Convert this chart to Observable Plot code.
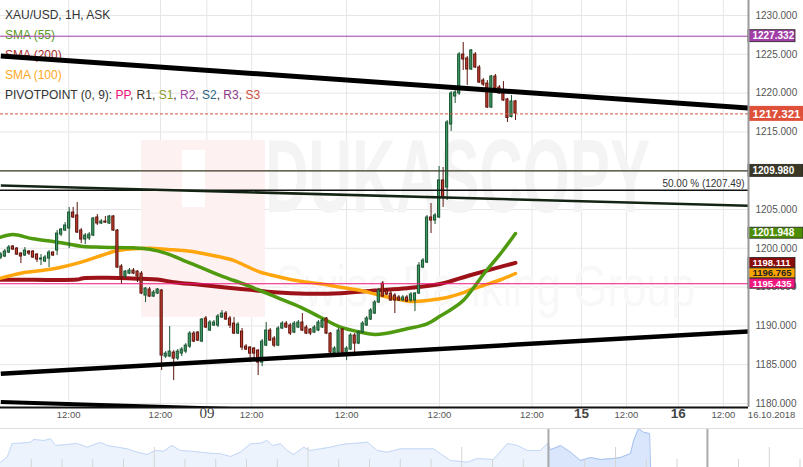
<!DOCTYPE html>
<html><head><meta charset="utf-8">
<script src="https://cdn.jsdelivr.net/npm/d3@7"></script>
<script src="https://cdn.jsdelivr.net/npm/@observablehq/plot@0.6"></script>
<style>
html,body{margin:0;padding:0;background:#fff;}
#wrap{position:relative;width:803px;height:467px;overflow:hidden;}
svg{display:block}
</style></head>
<body><div id="wrap"></div>
<script>
// ---------- DATA ----------
const candleOpen = [1198.81,1198.94,1199.45,1200.23,1199.97,1199.32,1199.07,1199.58,1199.58,1199.19,
1198.55,1198.29,1198.68,1199.45,1199.71,1201.77,1202.29,1202.55,1204.61,1204.23,
1202.29,1201.13,1201.26,1201.64,1203.97,1203.19,1203.45,1203.19,1204.10,1202.29,
1197.65,1196.36,1196.74,1197.13,1197.00,1196.74,1193.91,1194.69,1193.78,1194.17,
1194.56,1186.05,1186.05,1186.56,1185.79,1186.43,1186.69,1187.33,1189.01,1189.14,
1187.98,1190.95,1189.40,1190.05,1190.05,1191.08,1191.59,1190.95,1190.30,1189.01,
1189.27,1187.33,1187.21,1187.08,1186.82,1185.27,1187.46,1189.40,1188.37,1187.46,
1189.66,1190.30,1190.05,1189.14,1189.79,1190.43,1189.79,1189.53,1189.14,1189.40,
1189.79,1190.95,1189.01,1186.43,1186.56,1189.53,1186.56,1186.95,1188.76,1187.72,
1189.14,1190.05,1190.82,1191.59,1193.01,1195.46,1194.56,1194.17,1193.91,1193.66,
1193.27,1193.66,1193.27,1193.27,1194.17,1197.52,1198.16,1203.97,1203.58,1203.97,
1208.74,1207.83,1215.95,1219.56,1219.95,1224.97,1224.46,1223.04,1224.97,1223.30,
1221.62,1221.23,1218.14,1222.14,1220.72,1220.33,1219.18,1216.92,1218.92];
const candleHigh = [1199.45,1199.84,1200.36,1200.36,1200.10,1199.45,1200.10,1199.71,1199.71,1199.32,
1199.19,1199.07,1199.71,1199.58,1202.29,1202.55,1203.32,1205.26,1205.26,1205.90,
1202.55,1201.90,1202.03,1203.97,1204.36,1203.71,1204.10,1204.23,1204.23,1202.42,
1197.90,1197.13,1197.39,1197.39,1197.13,1197.00,1194.95,1194.95,1194.56,1194.82,
1194.69,1186.69,1189.92,1186.82,1186.95,1187.21,1187.72,1189.27,1189.27,1189.27,
1190.95,1191.21,1190.69,1190.69,1191.47,1191.98,1191.85,1191.21,1191.08,1190.43,
1189.66,1187.59,1187.33,1187.21,1186.95,1188.24,1190.43,1189.66,1188.63,1189.92,
1190.56,1190.56,1190.30,1190.56,1190.69,1191.59,1190.05,1189.66,1190.05,1190.69,
1190.95,1191.08,1189.14,1187.33,1189.66,1189.66,1187.33,1189.01,1189.01,1189.40,
1190.56,1191.21,1192.24,1193.27,1194.82,1195.72,1194.82,1194.43,1194.17,1193.91,
1193.91,1193.91,1194.30,1194.30,1198.16,1198.68,1204.23,1205.77,1204.48,1210.54,
1210.41,1216.47,1220.20,1220.33,1225.23,1226.52,1224.72,1225.62,1225.23,1223.56,
1221.88,1221.62,1222.27,1222.40,1220.98,1221.49,1219.31,1219.69,1219.05];
const candleLow = [1198.55,1198.81,1199.32,1199.71,1199.07,1198.03,1198.94,1199.07,1198.68,1198.16,
1197.77,1198.16,1197.52,1198.94,1199.07,1201.51,1202.16,1199.97,1203.84,1201.90,
1200.61,1200.48,1201.00,1201.51,1202.94,1203.06,1203.19,1203.06,1202.16,1197.39,
1195.33,1196.10,1196.61,1196.61,1195.59,1194.04,1193.01,1193.66,1193.66,1194.04,
1184.24,1185.79,1185.92,1182.95,1185.53,1186.05,1186.43,1187.08,1187.85,1187.98,
1187.85,1189.66,1189.27,1189.92,1189.79,1190.95,1190.69,1189.66,1188.88,1188.88,
1186.82,1186.82,1185.27,1185.92,1183.60,1184.76,1187.33,1187.98,1187.21,1187.33,
1189.53,1189.66,1188.76,1189.01,1189.66,1189.27,1188.88,1188.76,1189.01,1189.27,
1189.66,1188.88,1186.43,1186.30,1186.43,1186.43,1185.53,1186.82,1186.56,1187.59,
1189.01,1189.92,1190.69,1191.47,1192.88,1193.66,1193.91,1193.14,1191.59,1193.14,
1193.14,1193.01,1193.01,1191.85,1194.04,1197.39,1198.03,1201.90,1203.06,1203.84,
1205.26,1206.16,1215.05,1218.66,1219.69,1222.91,1220.98,1222.91,1223.17,1221.23,
1220.85,1218.02,1218.02,1220.33,1219.82,1218.92,1216.21,1216.79,1216.47];
const candleClose = [1199.19,1199.58,1200.10,1199.84,1199.19,1198.94,1199.71,1199.32,1198.81,1198.55,
1198.68,1198.81,1199.45,1199.07,1201.90,1202.42,1202.94,1204.61,1203.97,1202.03,
1201.13,1201.64,1201.77,1203.84,1203.19,1203.45,1203.32,1204.10,1202.29,1197.52,
1196.23,1197.00,1197.13,1196.74,1196.36,1194.17,1194.82,1193.78,1194.30,1194.69,
1186.18,1186.43,1186.69,1185.79,1186.69,1186.95,1187.46,1189.01,1187.98,1188.11,
1190.82,1189.79,1190.43,1190.43,1191.21,1191.59,1190.82,1190.05,1189.01,1190.17,
1187.21,1186.95,1186.43,1186.43,1185.27,1187.98,1189.40,1188.11,1187.46,1189.66,
1190.30,1189.79,1189.01,1190.30,1190.43,1189.40,1189.01,1189.01,1189.79,1190.43,
1190.69,1189.01,1186.56,1187.08,1189.40,1186.56,1187.08,1188.76,1187.72,1189.14,
1190.30,1190.95,1191.98,1193.01,1194.56,1193.78,1194.04,1193.27,1193.27,1193.27,
1193.66,1193.14,1194.04,1194.17,1197.77,1198.42,1203.97,1203.58,1204.23,1208.74,
1206.55,1216.21,1219.95,1220.08,1224.97,1224.33,1223.04,1225.49,1223.30,1221.36,
1221.10,1218.14,1222.14,1220.59,1219.95,1219.05,1216.79,1218.92,1217.37];

const sma55Idx = [0,3,8,13,16.5,20.5,25,33,37,41.5,45.5,50,54,58,62,64.5,69.5,74.5,79.5,84.5,89.5,93,96,101,106,109.5,112,115,118,120,124.5,128];
const sma55Val = [1201.43,1201.78,1201.22,1200.88,1200.58,1200.23,1200.14,1200.06,1199.88,1199.29,1198.42,1197.49,1196.62,1195.85,1195.08,1194.56,1193.49,1192.41,1191.12,1189.83,1189.19,1188.89,1189.06,1189.63,1190.27,1191.34,1192.11,1193.27,1195.21,1196.62,1199.46,1201.91];
const sma100Idx = [0,5,10,15,20,25,29,33,37,41.5,45.5,50,54,58,61,64.5,69.5,74.5,79.5,84.5,89.5,94.5,99.5,102.5,106,111,114.5,117,120,124.5,128];
const sma100Val = [1196.15,1196.79,1197.13,1197.56,1198.21,1199.07,1199.71,1199.94,1200.01,1199.85,1199.71,1199.37,1198.94,1198.42,1197.72,1196.92,1196.28,1195.76,1195.43,1194.99,1194.56,1193.92,1193.36,1193.14,1193.27,1193.66,1194.18,1194.69,1195.21,1195.98,1196.75];
const sma200Idx = [0,8,19,20.5,26.5,35,39,43,49.5,56.5,62,68,76,84.5,93,101,109.5,116.5,128];
const sma200Val = [1195.94,1195.94,1195.98,1196.15,1196.20,1196.07,1195.98,1195.63,1195.30,1194.91,1194.65,1194.34,1194.14,1194.21,1194.56,1194.86,1195.43,1196.50,1198.13];

// trend lines: start at index 0, end at given index
const trendStart = [1224.78, 1183.83, 1180.19, 1208.09];
const trendEnd = [1218.08, 1189.28, 1177.29, 1205.48];
const trendEndIdx = [186, 186, 186, 186];

const levelValues = [1227.332, 1217.321, 1209.980, 1207.49, 1195.435];
const fibLabel = "50.00 % (1207.49)";
const boxValues = [1227.332, 1217.321, 1209.980, 1201.948, 1198.111, 1196.765, 1195.435];

const priceTicks = [1180,1185,1190,1195,1200,1205,1210,1215,1220,1225,1230];
const timeTickIdx = [16.87, 39.72, 51.25, 62.4, 86.0, 109.1, 132.1, 144.4, 155.6, 168.5, 179.7, 191.7];
const timeTickLabel = ["12:00","12:00","09","12:00","12:00","12:00","12:00","15","12:00","16","12:00","16.10.2018"];

const legendTitle = "XAU/USD, 1H, ASK";
const smaNames = ["SMA (55)", "SMA (200)", "SMA (100)"];
const pivotPrefix = "PIVOTPOINT (0, 9): ";
const pivotNames = ["PP","R1","S1","R2","S2","R3","S3"];

const navT = [0,0.22,0.38,0.65,0.98,1.08,1.41,1.63,1.79,2.17,2.49,2.82,3.14,3.25,3.47,3.80,4.12,4.45,4.77,5.04,5.31,5.58,5.85,6.18,6.50,6.83,7.15,7.48,7.80,8.13,8.46,8.67,8.84,9.11,9.32,9.54,9.86,10.08,10.41,10.73,10.95,11.27,11.60,11.93,12.25,12.58,13.01,13.66,14.08,14.63,15.19,15.51,16.03,16.49,16.81,17.14,17.56,17.79,17.89,18.21,18.54,18.86,19.19,19.51,19.93,20.16,20.49,20.59,20.75,20.91,21.11,21.14];
const navV = [5.3,10.3,24,24.3,25.3,28,27,28.7,22,23,24,20.3,24,25,22,20.3,18.7,15.3,13,17,16.3,22,17,16.3,15.3,14.3,13.7,11,15.3,23.7,24.3,27,22,23.7,17,13,20.3,17,18.7,20.3,22,23.7,24.3,25.3,17,15.3,18.7,18.7,18.7,7,5.3,9,8,24,22,17,17,24,17.7,22,15.3,7,10,8,9,10,14,27,39,35.3,34,0];
const navWindow = [17.82, 22.99];

// ---------- BUILD ----------
const FONT = '"Liberation Sans", Arial, Helvetica, sans-serif';
const xMin = -0.075, xMax = 185.95;
const yMin = 1179.485, yMax = 1231.933;
const pxPerIdx = 748 / (xMax - xMin);
const pxPerPrice = 407 / (yMax - yMin);

const candles = candleOpen.map((o, i) => ({i, open: o, high: candleHigh[i], low: candleLow[i], close: candleClose[i]}));
const up = candles.filter(d => d.close >= d.open);
const down = candles.filter(d => d.close < d.open);
const sma55 = sma55Idx.map((x, k) => ({x, v: sma55Val[k]}));
const sma100 = sma100Idx.map((x, k) => ({x, v: sma100Val[k]}));
const sma200 = sma200Idx.map((x, k) => ({x, v: sma200Val[k]}));
const trends = trendStart.map((s, k) => ({k, x1: 0, y1: s, x2: trendEndIdx[k], y2: trendEnd[k]}));
const timeTicks = timeTickIdx.map((x, k) => ({x, label: timeTickLabel[k]}));

const boxStyle = [
  {fill:"#a03ea6", text:"#fff", h:12, w:47, fs:10, stroke:"#222"},
  {fill:"#df503b", text:"#fff", h:15, w:55, fs:11.5, stroke:"none"},
  {fill:"#3b3826", text:"#fff", h:12, w:55, fs:10, stroke:"#222"},
  {fill:"#4e8e05", text:"#fff", h:11, w:55, fs:10, stroke:"#222"},
  {fill:"#8b0a0a", text:"#fff", h:10, w:47, fs:9.5, stroke:"#222"},
  {fill:"#ffa500", text:"#222", h:10, w:47, fs:9.5, stroke:"#222"},
  {fill:"#f0157f", text:"#fff", h:10, w:47, fs:9.5, stroke:"#222"}
];
const boxMarks = [];
boxValues.forEach((v, k) => {
  const s = boxStyle[k];
  const d = [{v}];
  boxMarks.push(Plot.rect(d, {x1: () => xMax, x2: () => xMax + s.w / pxPerIdx,
    y1: r => r.v - s.h / 2 / pxPerPrice, y2: r => r.v + s.h / 2 / pxPerPrice,
    fill: s.fill, stroke: s.stroke, strokeWidth: 0.8}));
  boxMarks.push(Plot.text(d, {x: () => xMax, y: "v", text: r => r.v.toFixed(3), dx: 4, textAnchor: "start",
    fill: s.text, fontSize: s.fs, fontWeight: "bold"}));
});

const levelStyle = [
  {stroke:"#a03ea6", w:1, dash:null},
  {stroke:"#d4533e", w:1, dash:"3,2"},
  {stroke:"#3b3826", w:1.2, dash:null},
  {stroke:"#111", w:1.5, dash:null},
  {stroke:"#f0157f", w:1.2, dash:null}
];
const levelMarks = levelValues.map((v, k) => Plot.ruleY([v], {stroke: levelStyle[k].stroke, strokeWidth: levelStyle[k].w, strokeDasharray: levelStyle[k].dash}));

const trendStyle = [
  {stroke:"#000", w:5},
  {stroke:"#000", w:4.5},
  {stroke:"#000", w:4},
  {stroke:"#142414", w:2.6}
];
const trendMarks = trends.map((t, k) => Plot.link([t], {x1:"x1", y1:"y1", x2:"x2", y2:"y2", stroke: trendStyle[k].stroke, strokeWidth: trendStyle[k].w, clip: true}));

// watermark (decoration)
const wmBlock = [{x1: 35.0, x2: 65.8, y1: 1191.08, y2: 1213.89}];
const wmNotch = [{x1: 45.2, x2: 50.9, y1: 1205.26, y2: 1212.60}];
const wmText = [{x: 113.6, y: 1208.99, t: "DUKASCOPY"}];
const wmSub = [{x: 120.5, y: 1194.95, t: "Swiss Banking Group"}];

const chart = Plot.plot({
  width: 803, height: 428,
  marginLeft: 0, marginRight: 55, marginTop: 0, marginBottom: 21,
  x: {domain: [xMin, xMax], axis: null},
  y: {domain: [yMin, yMax], axis: null},
  style: {background: "#fff", fontFamily: FONT, fontSize: "10px"},
  marks: [
    Plot.ruleY(priceTicks, {stroke: "#e6e6e6"}),
    Plot.ruleX(timeTickIdx.slice(0, -1), {stroke: "#e6e6e6"}),
    Plot.rect(wmBlock, {x1:"x1", x2:"x2", y1:"y1", y2:"y2", fill:"#fdf1f2"}),
    Plot.rect(wmNotch, {x1:"x1", x2:"x2", y1:"y1", y2:"y2", fill:"#ffffff"}),
    Plot.text(wmText, {x:"x", y:"y", text:"t", fontSize: 104, fontWeight: "bold", fill: "#f4f4f4"}),
    Plot.text(wmSub, {x:"x", y:"y", text:"t", fontSize: 58, fill: "#f8f8f8"}),
    Plot.line(sma200, {x:"x", y:"v", stroke:"#9c1218", strokeWidth: 4, curve:"catmull-rom"}),
    Plot.line(sma100, {x:"x", y:"v", stroke:"#ffa60f", strokeWidth: 3.5, curve:"catmull-rom"}),
    Plot.line(sma55, {x:"x", y:"v", stroke:"#4f9a0f", strokeWidth: 3.5, curve:"catmull-rom"}),
    Plot.ruleX(up, {x:"i", y1:"low", y2:"high", stroke:"#1b5432", strokeWidth: 1}),
    Plot.ruleX(down, {x:"i", y1:"low", y2:"high", stroke:"#5c150e", strokeWidth: 1}),
    Plot.rect(up, {x1: d => d.i - 0.27, x2: d => d.i + 0.27, y1:"open", y2:"close", fill:"#3f9a62", stroke:"#1b5432", strokeWidth: 1}),
    Plot.rect(down, {x1: d => d.i - 0.27, x2: d => d.i + 0.27, y1:"open", y2:"close", fill:"#c43d2d", stroke:"#5c150e", strokeWidth: 1}),
    ...levelMarks,
    ...trendMarks,
    Plot.text([{x: 186, v: levelValues[3]}], {x:"x", y:"v", text: () => fibLabel, textAnchor:"end", dx:-4, dy:-6, fontSize:10, fill:"#333"}),
    Plot.text(priceTicks, {y: d => d, text: d => d.toFixed(3), frameAnchor: "right", dx: 7, textAnchor: "start", fontSize: 10, fill: "#555"}),
    ...boxMarks,
    Plot.ruleY([yMin], {stroke:"#111", strokeWidth: 2}),
    Plot.ruleX([xMax], {stroke:"#9a9a9a", strokeWidth: 2}),
    Plot.text(timeTicks.filter(d => d.label === "12:00" || d.label.length > 5), {x:"x", text:"label", frameAnchor:"bottom", dy: 10, fontSize: 9.5, fill:"#555"}),
    Plot.text(timeTicks.filter(d => d.label === "09"), {x:"x", text:"label", frameAnchor:"bottom", dy: 10, fontSize: 15, fill:"#444", fontFamily: '"Liberation Serif", "DejaVu Serif", serif'}),
    Plot.text(timeTicks.filter(d => d.label === "15" || d.label === "16"), {x:"x", text:"label", frameAnchor:"bottom", dy: 10, fontSize: 13.5, fontWeight:"bold", fill:"#444"})
  ]
});

// legend (drawn beneath the series lines)
const legendRows = [
  [[legendTitle, "#333"]],
  [[smaNames[0], "#5b9a1b"]],
  [[smaNames[1], "#a52a2a"]],
  [[smaNames[2], "#ffa820"]],
  (() => {
    const cols = ["#ee1177","#3d3a28","#8a9a2e","#9e3fa3","#2b6580","#8b3b8b","#d0503c"];
    const row = [[pivotPrefix, "#333"]];
    pivotNames.forEach((n, k) => { row.push([n, cols[k]]); if (k < pivotNames.length - 1) row.push([", ", "#333"]); });
    return row;
  })()
];
const lg = d3.create("svg:g").attr("font-family", FONT).attr("font-size", 12).attr("text-anchor", "start");
legendRows.forEach((row, k) => {
  const t = lg.append("text").attr("x", 5).attr("y", 19.3 + 20 * k).attr("text-anchor", "start").style("white-space", "pre");
  row.forEach(([txt, col]) => t.append("tspan").attr("fill", col).text(txt));
});
const firstLine = chart.querySelector('g[aria-label="line"]');
chart.insertBefore(lg.node(), firstLine);

chart.querySelectorAll("text").forEach(t => {
  if (t.textContent === "DUKASCOPY") { t.setAttribute("textLength", 385); t.setAttribute("lengthAdjust", "spacingAndGlyphs"); }
  if (t.textContent === "Swiss Banking Group") { t.setAttribute("textLength", 420); t.setAttribute("lengthAdjust", "spacingAndGlyphs"); }
});

// navigator
const navData = navT.map((t, k) => ({t, v: navV[k]}));
const navLight = navData.filter(d => d.t <= 17.79);
const navDark = navData.filter(d => d.t >= 17.79);
const navTicks = d3.range(1, 27).filter(d => d !== 18 && d !== 23);
const nav = Plot.plot({
  width: 803, height: 39, margin: 0,
  x: {domain: [0, 803 / 30.75], axis: null},
  y: {domain: [0, 39], axis: null},
  style: {background: "#fff"},
  marks: [
    Plot.areaY(navLight, {x:"t", y:"v", fill:"#edf3fd"}),
    Plot.lineY(navLight, {x:"t", y:"v", stroke:"#c3d7f6", strokeWidth: 1}),
    Plot.areaY(navDark, {x:"t", y:"v", fill:"#d9e6fb"}),
    Plot.lineY(navDark, {x:"t", y:"v", stroke:"#a5c2f0", strokeWidth: 1}),
    Plot.ruleX(navTicks, {x: d => d, y1: 0, y2: d => d % 5 === 0 ? 20 : 8, stroke:"#d5d5d5"}),
    Plot.ruleX(navWindow, {stroke:"#aaaaaa", strokeWidth: 2}),
    Plot.ruleY([39], {stroke:"#dddddd"})
  ]
});

const wrap = document.getElementById("wrap");
wrap.appendChild(chart);
wrap.appendChild(nav);
</script>
</body></html>
